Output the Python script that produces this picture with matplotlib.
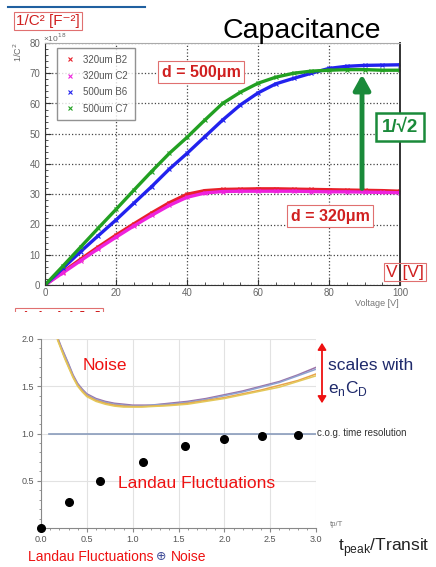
import matplotlib
matplotlib.use("Agg")
import matplotlib.pyplot as plt
from matplotlib.patches import Rectangle, FancyArrowPatch
from matplotlib.ticker import MultipleLocator

plt.rcParams['font.family'] = ['Liberation Sans', 'DejaVu Sans']

# --- capacitance data (1/C^2 in 1e18 F^-2 vs bias voltage) ---
voltage = [0, 5, 10, 15, 20, 25, 30, 35, 40, 45, 50, 55, 60, 65, 70, 75, 80, 85, 90, 95, 100]
c320_b2 = [0, 4.3, 8.5, 12.6, 16.5, 20.2, 23.8, 27.2, 30.0, 31.2, 31.6, 31.7, 31.8, 31.8, 31.7,
           31.6, 31.5, 31.4, 31.3, 31.2, 31.0]
c320_c2 = [0, 4.0, 8.0, 12.0, 15.8, 19.5, 23.0, 26.3, 29.0, 30.4, 30.9, 31.0, 31.0, 31.0, 31.0,
           30.9, 30.8, 30.8, 30.7, 30.6, 30.5]
c500_b6 = [0, 5.5, 11.0, 16.3, 21.5, 27.0, 32.5, 38.3, 43.5, 49.0, 54.5, 59.5, 63.5, 66.5, 68.3,
           70.0, 71.6, 72.3, 72.6, 72.7, 72.8]
c500_c7 = [0, 6.2, 12.5, 18.8, 25.0, 31.3, 37.5, 43.5, 48.8, 54.5, 60.0, 63.7, 66.7, 68.7, 70.0,
           70.7, 71.0, 71.2, 71.2, 71.0, 71.0]
series_names = ['320um B2', '320um C2', '500um B6', '500um C7']
series_colors = ['#e8202a', '#ee22dd', '#2222ee', '#22a022']
plateau_320 = 31.0
plateau_500 = 71.5
arrow_voltage = 89.3

# --- resolution vs shaping time ---
t_noise = [0.18, 0.22, 0.26, 0.30, 0.35, 0.40, 0.45, 0.50, 0.60, 0.70, 0.80, 0.90, 1.00, 1.10,
           1.20, 1.40, 1.60, 1.80, 2.00, 2.20, 2.40, 2.60, 2.80, 3.00]
noise_curves = [
    [2.02, 1.92, 1.83, 1.74, 1.62, 1.53, 1.47, 1.42, 1.37, 1.34, 1.32, 1.31, 1.30, 1.30,
     1.30, 1.32, 1.34, 1.37, 1.41, 1.45, 1.50, 1.55, 1.62, 1.70],
    [2.01, 1.91, 1.82, 1.73, 1.61, 1.52, 1.46, 1.41, 1.36, 1.33, 1.31, 1.30, 1.29, 1.29,
     1.30, 1.31, 1.33, 1.36, 1.40, 1.44, 1.49, 1.54, 1.61, 1.68],
    [2.00, 1.90, 1.80, 1.71, 1.60, 1.51, 1.45, 1.40, 1.35, 1.32, 1.30, 1.29, 1.285, 1.285,
     1.29, 1.30, 1.32, 1.35, 1.38, 1.42, 1.46, 1.51, 1.56, 1.63],
    [1.99, 1.89, 1.79, 1.70, 1.59, 1.50, 1.44, 1.39, 1.34, 1.31, 1.29, 1.28, 1.28, 1.28,
     1.285, 1.295, 1.31, 1.34, 1.37, 1.41, 1.45, 1.49, 1.55, 1.61],
]
noise_colors = ['#9b72a8', '#8ea2d0', '#e8a44a', '#e3c85a']
t_landau = [0.0, 0.30, 0.64, 1.11, 1.57, 2.00, 2.41, 2.80]
landau = [0.0, 0.28, 0.50, 0.70, 0.87, 0.94, 0.97, 0.98]
cog_level = 1.0

W, H = 436, 567


def fx(x):
    return x / W


def fy(y):
    return 1 - y / H


fig = plt.figure(figsize=(W / 100, H / 100), dpi=100)

# ===================== top panel =====================
ax1 = fig.add_axes([fx(45), fy(285), (400 - 45) / W, (285 - 43) / H])
for vals, name, col in zip([c320_b2, c320_c2, c500_b6, c500_c7], series_names, series_colors):
    ax1.plot(voltage, vals, color=col, lw=2.4, marker='x', ms=2.5, mew=0.8, label=name)
ax1.set_xlim(0, 100)
ax1.set_ylim(0, 80)
ax1.xaxis.set_major_locator(MultipleLocator(20))
ax1.xaxis.set_minor_locator(MultipleLocator(5))
ax1.yaxis.set_major_locator(MultipleLocator(10))
ax1.yaxis.set_minor_locator(MultipleLocator(2))
ax1.tick_params(which='both', direction='in', labelsize=7, labelcolor='#666', color='#333')
ax1.tick_params(which='major', length=4)
ax1.tick_params(which='minor', length=2)
ax1.tick_params(axis='x', pad=2)
ax1.grid(True, which='major', ls=':', color='#444', lw=0.9)
ax1.spines['top'].set_color('#aaa')
for s in ['left', 'bottom', 'right']:
    ax1.spines[s].set_color('#333')
ax1.spines['right'].set_linewidth(1.4)
leg = ax1.legend(loc='upper left', bbox_to_anchor=(0.034, 0.98), fontsize=7, frameon=True,
                 fancybox=False, edgecolor='#777', handlelength=1.2, labelspacing=0.65,
                 borderpad=0.7, borderaxespad=0, markerscale=0.9)
for t in leg.get_texts():
    t.set_color('#555')
for h in leg.get_lines():
    h.set_linestyle('none')

ax1.annotate('', xy=(arrow_voltage, plateau_500 - 1), xytext=(arrow_voltage, plateau_320),
             arrowprops=dict(arrowstyle='-|>,head_width=0.5,head_length=0.9', color='#1a8a3a', lw=3.5))

fig.add_artist(plt.Line2D([fx(8), fx(145)], [fy(7), fy(7)], color='#2060a0', lw=1.5))
fig.text(fx(16), fy(21), '1/C² [F⁻²]', color='#d02020', fontsize=11, va='center',
         bbox=dict(boxstyle='square,pad=0.15', fc='white', ec='#e07070', lw=0.8))
fig.text(fx(302), fy(31), 'Capacitance', color='black', fontsize=20.5, ha='center', va='center')
fig.text(fx(18), fy(52), '1/C$^2$', color='#666', fontsize=6.5, rotation=90, ha='center', va='center')
fig.text(fx(43), fy(38), '×10$^{18}$', color='#666', fontsize=6, va='center')
fig.text(fx(201), fy(72), 'd = 500μm', color='#d02020', fontsize=11.5, weight='bold',
         ha='center', va='center',
         bbox=dict(boxstyle='square,pad=0.2', fc='white', ec='#e07070', lw=0.8))
fig.text(fx(400), fy(127), '1/√2', color='#1a8a3a', fontsize=13.5, weight='bold',
         ha='center', va='center',
         bbox=dict(boxstyle='square,pad=0.3', fc='white', ec='#1a8a3a', lw=1.8))
fig.text(fx(330), fy(216), 'd = 320μm', color='#d02020', fontsize=11.5, weight='bold',
         ha='center', va='center',
         bbox=dict(boxstyle='square,pad=0.2', fc='white', ec='#e07070', lw=0.8))
fig.text(fx(405), fy(272), 'V [V]', color='#d02020', fontsize=12.5, ha='center', va='center',
         bbox=dict(boxstyle='square,pad=0.1', fc='none', ec='#e07070', lw=0.8))
fig.text(fx(377), fy(304), 'Voltage [V]', color='#777', fontsize=6.5, ha='center', va='center')
fig.text(fx(59), fy(318), 'I(Diode) [A]', color='#d02020', fontsize=11, weight='bold',
         ha='center', va='center', zorder=5,
         bbox=dict(boxstyle='square,pad=0.2', fc='white', ec='#e07070', lw=0.8))
fig.add_artist(Rectangle((0, fy(333)), fx(140), fy(312) - fy(333), transform=fig.transFigure,
                         fc='white', ec='none', zorder=10))

# ===================== bottom panel =====================
ax2 = fig.add_axes([fx(41), fy(528), (316 - 41) / W, (528 - 339) / H])
for vals, col in zip(noise_curves, noise_colors):
    ax2.plot(t_noise, vals, color=col, lw=1.1)
ax2.axhline(cog_level, xmin=0.03, color='#8a9cbc', lw=1.2)
ax2.plot(t_landau, landau, 'o', color='black', ms=5.5, clip_on=False, zorder=5)
ax2.set_xlim(0, 3)
ax2.set_ylim(0, 2)
ax2.xaxis.set_major_locator(MultipleLocator(0.5))
ax2.xaxis.set_minor_locator(MultipleLocator(0.1))
ax2.set_yticks([0.5, 1.0, 1.5, 2.0])
ax2.yaxis.set_minor_locator(MultipleLocator(0.1))
ax2.xaxis.set_major_formatter(plt.FormatStrFormatter('%.1f'))
ax2.yaxis.set_major_formatter(plt.FormatStrFormatter('%.1f'))
ax2.tick_params(which='both', labelsize=6.5, labelcolor='#555', color='#888', pad=2)
ax2.tick_params(which='major', length=3)
ax2.tick_params(which='minor', length=1.5)
ax2.grid(True, which='major', color='#e2e2e2', lw=0.8)
for s in ['top', 'right']:
    ax2.spines[s].set_visible(False)
for s in ['left', 'bottom']:
    ax2.spines[s].set_color('#888')

fig.add_artist(FancyArrowPatch((fx(322), fy(406)), (fx(322), fy(340)), transform=fig.transFigure,
                               arrowstyle='<|-|>,head_width=2.5,head_length=4', color='#ee1111', lw=1.3))
navy = '#1f2a6b'
fig.text(fx(328), fy(365), 'scales with', color=navy, fontsize=12.5, va='center')
fig.text(fx(328), fy(388), 'e$_{\\mathregular{n}}$C$_{\\mathregular{D}}$', color=navy, fontsize=12.5, va='center')
fig.text(fx(317), fy(433), 'c.o.g. time resolution', color='#333', fontsize=7, va='center')
fig.text(fx(83), fy(366), 'Noise', color='#ee1111', fontsize=12.5, va='center')
fig.text(fx(118), fy(484), 'Landau Fluctuations', color='#ee1111', fontsize=12.5, va='center')
fig.text(fx(330), fy(524), 'tp/T', color='#777', fontsize=5.5, va='center')
fig.text(fx(338), fy(548), 't$_{\\mathregular{peak}}$/Transit', color='#222', fontsize=12.5, va='center')
fig.text(fx(28), fy(557), 'Landau Fluctuations', color='#ee1111', fontsize=10, va='center')
fig.text(fx(156), fy(557), '⊕', color='#44509a', fontsize=9, va='center')
fig.text(fx(171), fy(557), 'Noise', color='#ee1111', fontsize=10, va='center')

fig.savefig('out.png', dpi=100)
